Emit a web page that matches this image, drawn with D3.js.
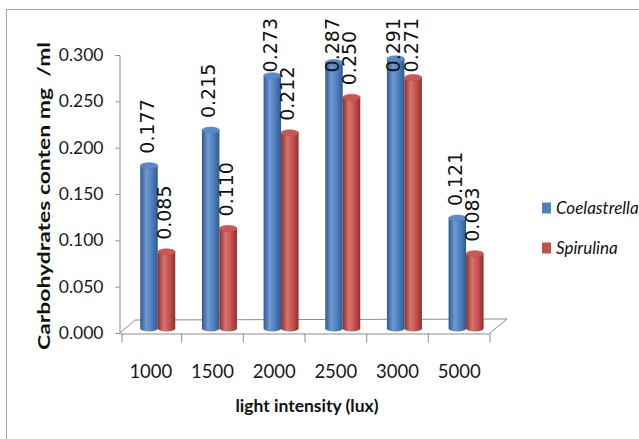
<!DOCTYPE html>
<html><head><meta charset="utf-8">
<script src="https://cdn.jsdelivr.net/npm/d3@7"></script>
<style>body{margin:0;background:#fff}svg{display:block}</style>
</head><body>
<script>
const categories = ["1000","1500","2000","2500","3000","5000"];
const coelastrella = [0.177,0.215,0.273,0.287,0.291,0.121];
const spirulina = [0.085,0.110,0.212,0.250,0.271,0.083];
const seriesNames = ["Coelastrella","Spirulina"];
const yTicks = [0,0.05,0.1,0.15,0.2,0.25,0.3];
const yTickLabels = ["0.000","0.050","0.100","0.150","0.200","0.250","0.300"];

const W=639,H=439;
const svg=d3.select("body").append("svg").attr("width",W).attr("height",H);
svg.append("rect").attr("x",6.5).attr("y",9.5).attr("width",700).attr("height",500)
  .attr("fill","#fff").attr("stroke","#a6a6a6").attr("stroke-width",1);

const defs=svg.append("defs");
function grad(id,dark,mid,light){
  const g=defs.append("linearGradient").attr("id",id).attr("x1","0").attr("x2","1").attr("y1","0").attr("y2","0");
  g.append("stop").attr("offset","0").attr("stop-color",dark);
  g.append("stop").attr("offset","0.35").attr("stop-color",light);
  g.append("stop").attr("offset","0.7").attr("stop-color",mid);
  g.append("stop").attr("offset","1").attr("stop-color",dark);
}
grad("gBlue","#2f5a8e","#4a7cbb","#6f9ad3");
grad("gRed","#8e2f2c","#c24e4b","#d87370");
const colors=["#4f81bd","#c0504d"];
const fills=["url(#gBlue)","url(#gRed)"];
const topFills=["#5b8bc6","#c95956"];

const x=d3.scaleBand().domain(categories).range([120,490]).padding(0);
const y=d3.scaleLinear().domain([0,0.3]).range([333,55]);
const yB=d3.scaleLinear().domain([0,0.3]).range([328.5,47.4]);
const depth=13;

const axisCol="#8c8c8c";
const g=svg.append("g");
g.append("path").attr("d",`M${x.range()[0]},333 L${x.range()[0]+depth+2},${333-depth} L${x.range()[1]+depth+4},${333-depth-1} L${x.range()[1]},333`)
  .attr("fill","none").attr("stroke",axisCol).attr("stroke-width",1);

const ya=svg.append("g").attr("transform","translate(119.5,0)")
  .call(d3.axisLeft(y).tickValues(yTicks).tickFormat((d,i)=>yTickLabels[i]).tickSize(4).tickPadding(12));
ya.select(".domain").attr("stroke",axisCol);
ya.selectAll(".tick line").attr("stroke",axisCol);
ya.selectAll(".tick text").attr("font-family","Lato, 'Open Sans', sans-serif").attr("font-size",17.5).attr("fill","#1a1a1a");

const xa=svg.append("g").attr("transform","translate(0,333.5)")
  .call(d3.axisBottom(x).tickSize(0).tickPadding(31));
xa.select(".domain").attr("stroke",axisCol);
xa.selectAll(".tick text").attr("font-family","Lato, 'Open Sans', sans-serif").attr("font-size",18.5).attr("fill","#1a1a1a");
xa.selectAll(".bnd").data(d3.range(categories.length+1)).enter().append("line")
  .attr("x1",i=>x.range()[0]+i*x.bandwidth()+(i===0?2:0)).attr("x2",i=>x.range()[0]+i*x.bandwidth()+(i===0?2:0))
  .attr("y1",0).attr("y2",9).attr("stroke",axisCol);

const bw=17.5, ry=3;
function cyl(sel,cx,v,s){
  const l=cx-bw/2,r=cx+bw/2,rx=bw/2;
  const yt=yB(v)+ry, yb=yB(0);
  sel.append("path").attr("d",`M${l},${yt} L${l},${yb} A${rx},${ry} 0 0 0 ${r},${yb} L${r},${yt} Z`).attr("fill",fills[s]);
  sel.append("ellipse").attr("cx",cx).attr("cy",yt).attr("rx",rx).attr("ry",ry).attr("fill",topFills[s]).attr("stroke",colors[s]).attr("stroke-width",0.6);
}
const data=[coelastrella,spirulina];
const barsG=svg.append("g");
const labelsG=svg.append("g");
categories.forEach((c,i)=>{
  data.forEach((arr,s)=>{
    const cx=x(c)+29+s*bw;
    cyl(barsG,cx,arr[i],s);
    const t=labelsG.append("text").text(arr[i].toFixed(3))
      .attr("font-family","'DejaVu Sans', Verdana, sans-serif").attr("font-size",19).attr("fill","#111");
    const len=t.node().getComputedTextLength();
    const bottom=Math.max(yB(arr[i])-9, 18+len);
    t.attr("transform",`translate(${cx+4.5},${bottom}) rotate(-90)`);
  });
});

svg.append("text").text("Carbohydrates conten mg  /ml").attr("xml:space","preserve")
  .attr("transform","translate(50,196) rotate(-90)").attr("text-anchor","middle")
  .attr("font-family","Lato, 'Open Sans', sans-serif").attr("font-weight","bold").attr("font-size",17)
  .attr("textLength",308).attr("lengthAdjust","spacingAndGlyphs").attr("fill","#111");
svg.append("text").text("light intensity (lux)").attr("x",307).attr("y",412).attr("text-anchor","middle")
  .attr("font-family","Lato, 'Open Sans', sans-serif").attr("font-weight","bold").attr("font-size",17.5)
  .attr("textLength",143).attr("lengthAdjust","spacingAndGlyphs").attr("fill","#111");

const leg=svg.append("g");
seriesNames.forEach((n,i)=>{
  const yy=208+i*40;
  leg.append("rect").attr("x",542).attr("y",yy-5.5).attr("width",9).attr("height",11).attr("fill",colors[i]);
  leg.append("text").text(n).attr("x",556).attr("y",yy).attr("dy","0.35em")
    .attr("font-family","Lato, 'Open Sans', sans-serif").attr("font-style","italic").attr("font-size",17).attr("fill","#111");
});
</script>
</body></html>
